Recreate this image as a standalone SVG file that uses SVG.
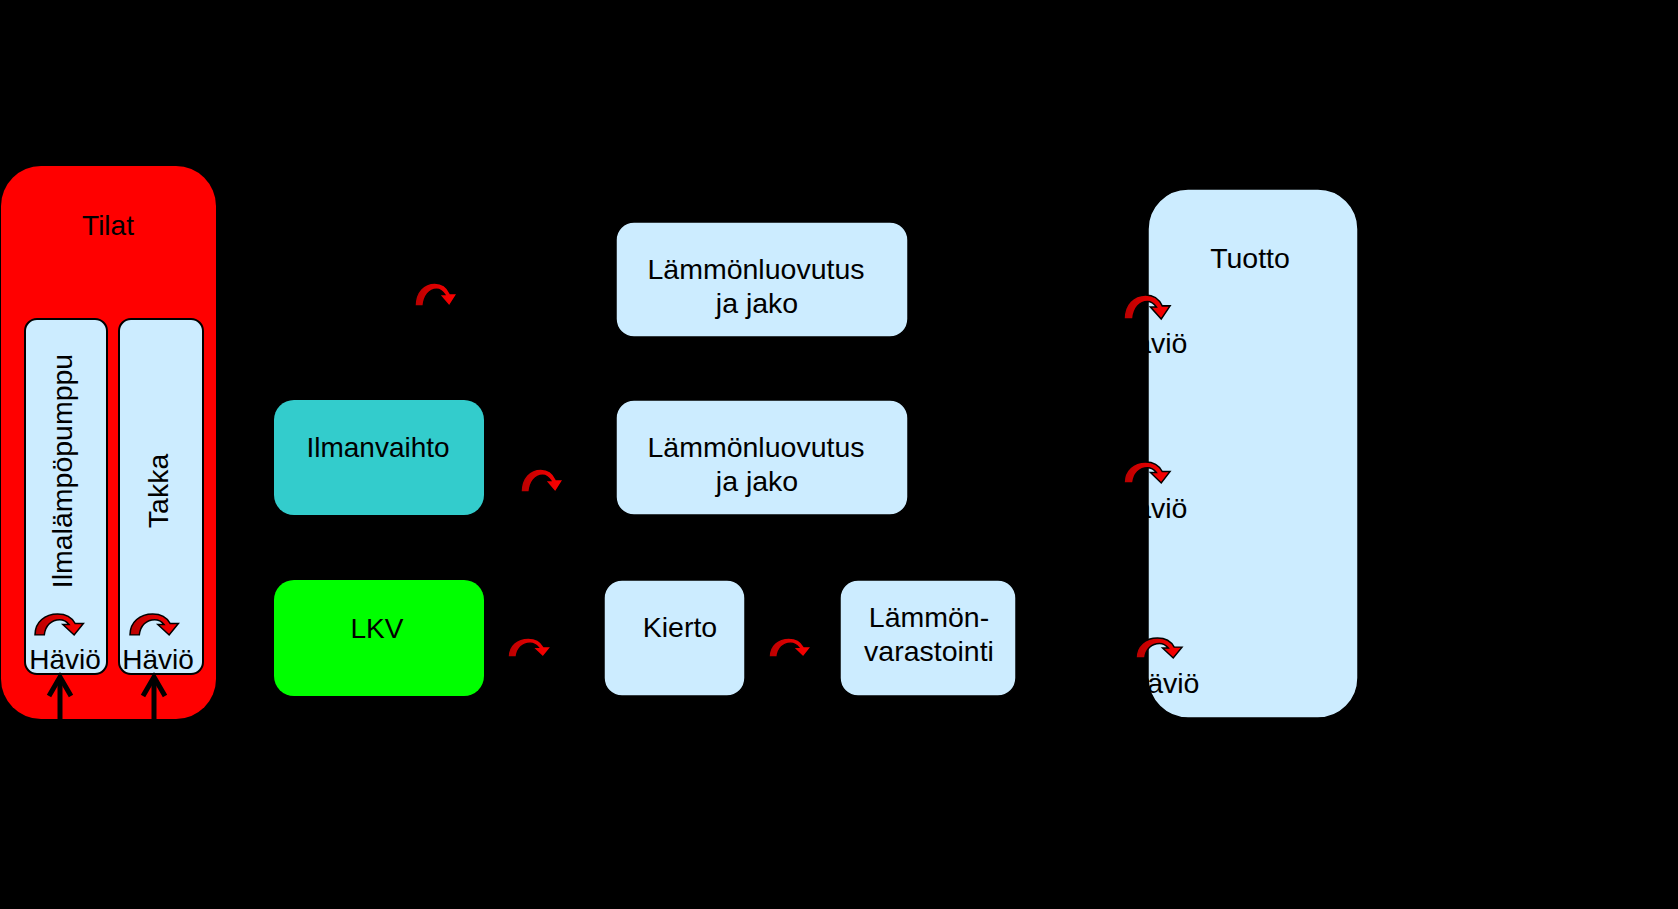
<svg xmlns="http://www.w3.org/2000/svg" width="1678" height="909" viewBox="0 0 1678 909">
<style>
text{font-family:"Liberation Sans",Arial,sans-serif;font-size:28px;fill:#000;text-anchor:middle}
.lb{fill:#CCECFF;stroke:#000;stroke-width:1.5}
.in{fill:#CCECFF;stroke:#000;stroke-width:2}
.big{font-size:28.5px}
.ca{fill:url(#rg);stroke:#000;stroke-width:1.5}
.va{stroke:#000;stroke-width:5;fill:none}
</style>
<defs>
<linearGradient id="rg" x1="0" y1="0" x2="1" y2="0">
<stop offset="0" stop-color="#B80000"/>
<stop offset="0.5" stop-color="#E00000"/>
<stop offset="1" stop-color="#FF0000"/>
</linearGradient>
<path id="carrow" d="M0 22 C0 8 10 0 22 0 C30 0 36 4 39 10 L47 10 L38 22 L27 11 L33 11 C30 7 27 6 24 6 C16 6 10 12 9 22 Z"/>
</defs>
<rect x="0" y="0" width="1678" height="909" fill="#000"/>

<g id="tilat">
<rect x="1" y="166" width="215" height="553" rx="40" ry="40" fill="#FF0000"/>
<text x="108" y="235">Tilat</text>
</g>
<g id="ilmalampopumppu">
<rect class="in" x="25" y="319" width="82" height="355" rx="12" ry="12"/>
<text class="big" transform="translate(72,471) rotate(-90)">Ilmalämpöpumppu</text>
<text x="65" y="669">Häviö</text>
</g>
<g id="takka">
<rect class="in" x="119" y="319" width="84" height="355" rx="12" ry="12"/>
<text class="big" transform="translate(168,491) rotate(-90)">Takka</text>
<text x="158" y="669">Häviö</text>
</g>

<g id="ilmanvaihto">
<rect x="274" y="400" width="210" height="115" rx="20" ry="20" fill="#33CCCC"/>
<text x="378" y="457">Ilmanvaihto</text>
</g>
<g id="lkv">
<rect x="274" y="580" width="210" height="116" rx="20" ry="20" fill="#00FF00"/>
<text x="377" y="638">LKV</text>
</g>
<g id="lammonluovutus1">
<rect class="lb" x="616" y="222" width="292" height="115" rx="18" ry="18"/>
<text class="big" x="756" y="279">Lämmönluovutus</text>
<text class="big" x="757" y="313">ja jako</text>
</g>
<g id="lammonluovutus2">
<rect class="lb" x="616" y="400" width="292" height="115" rx="18" ry="18"/>
<text class="big" x="756" y="457">Lämmönluovutus</text>
<text class="big" x="757" y="491">ja jako</text>
</g>
<g id="kierto">
<rect class="lb" x="604" y="580" width="141" height="116" rx="18" ry="18"/>
<text class="big" x="680" y="637">Kierto</text>
</g>
<g id="lammonvarastointi">
<rect class="lb" x="840" y="580" width="176" height="116" rx="18" ry="18"/>
<text class="big" x="929" y="627">Lämmön-</text>
<text class="big" x="929" y="661">varastointi</text>
</g>
<g id="tuotto">
<rect class="lb" x="1148" y="189" width="210" height="529" rx="40" ry="40"/>
<text class="big" x="1250" y="268">Tuotto</text>
<text class="big" x="1151" y="353">Häviö</text>
<text class="big" x="1151" y="518">Häviö</text>
<text class="big" x="1163" y="693">Häviö</text>
</g>

<g id="connectors">
<use href="#carrow" class="ca" transform="translate(35,614) scale(1.03,0.95)"/>
<use href="#carrow" class="ca" transform="translate(130,614) scale(1.03,0.95)"/>
<use href="#carrow" class="ca" transform="translate(415,283) scale(0.9,1.05)"/>
<use href="#carrow" class="ca" transform="translate(521,469) scale(0.9,1.05)"/>
<use href="#carrow" class="ca" transform="translate(508,638) scale(0.92,0.86)"/>
<use href="#carrow" class="ca" transform="translate(769,638) scale(0.9,0.86)"/>
<use href="#carrow" class="ca" transform="translate(1124,295) scale(0.98,1.09)"/>
<use href="#carrow" class="ca" transform="translate(1124,462) scale(0.98,0.95)"/>
<use href="#carrow" class="ca" transform="translate(1136,638) scale(0.98,0.91)"/>
<line class="va" x1="60" y1="760" x2="60" y2="677"/>
<polyline class="va" points="49,696 60,677 71,696"/>
<line class="va" x1="154" y1="760" x2="154" y2="677"/>
<polyline class="va" points="143,696 154,677 165,696"/>
</g>
</svg>
